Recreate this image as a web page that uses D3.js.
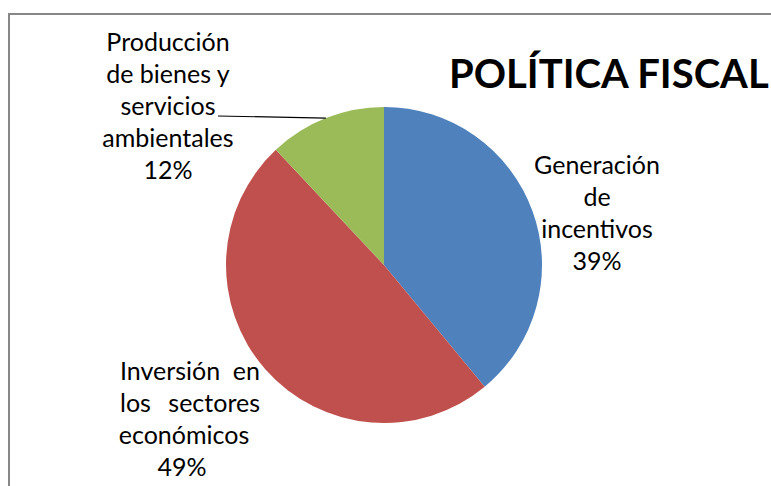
<!DOCTYPE html>
<html>
<head>
<meta charset="utf-8">
<script src="https://cdn.jsdelivr.net/npm/d3@7"></script>
<style>
  body { margin: 0; background: #fff; }
  svg { display: block; }
  text { font-family: Lato, "Open Sans", sans-serif; fill: #000; }
</style>
</head>
<body>
<svg></svg>
<script>
const categories = ['Generación de incentivos', 'Inversión en los sectores económicos', 'Producción de bienes y servicios ambientales'];
const values = [39, 49, 12];
const colors = ['#4F81BD', '#C0504D', '#9BBB59'];
const title = 'POLÍTICA FISCAL';

const width = 771;
const height = 486;

const svg = d3.select('svg')
  .attr('width', width)
  .attr('height', height);

// chart frame (only top + left edges are visible in the crop)
svg.append('path')
  .attr('d', 'M9,486 V14 H771')
  .attr('fill', 'none')
  .attr('stroke', '#878787')
  .attr('stroke-width', 2);

const cx = 384, cy = 265, radius = 158;

const pie = d3.pie().sort(null).value(d => d.value);
const arc = d3.arc().innerRadius(0).outerRadius(radius);

const data = categories.map((c, i) => ({ name: c, value: values[i], color: colors[i] }));

const g = svg.append('g').attr('transform', `translate(${cx},${cy})`);
g.selectAll('path')
  .data(pie(data))
  .enter().append('path')
    .attr('d', arc)
    .attr('fill', d => d.data.color);

svg.append('text')
  .attr('x', 449)
  .attr('y', 88)
  .attr('font-size', 40)
  .attr('font-weight', 'bold')
  .text(title);

// labels, wrapped as in the original
const pct = v => v + '%';
const fs = 25;
const labelBlocks = [
  { lines: ['Generación', 'de', 'incentivos', pct(values[0])], x: 597, y: 174 },
  { lines: ['Producción', 'de bienes y', 'servicios', 'ambientales', pct(values[2])], x: 168, y: 51 }
];
const lineH = 32;
labelBlocks.forEach(b => {
  b.lines.forEach((l, i) => {
    svg.append('text')
      .attr('x', b.x)
      .attr('y', b.y + i * lineH)
      .attr('text-anchor', 'middle')
      .attr('font-size', fs)
      .text(l);
  });
});

// justified lines for the red slice: first word left, last word right
const inv = [['Inversión', 'en'], ['los', 'sectores']];
inv.forEach((w, i) => {
  svg.append('text')
    .attr('x', 120).attr('y', 380 + i * lineH)
    .attr('font-size', fs)
    .text(w[0]);
  svg.append('text')
    .attr('x', 260).attr('y', 380 + i * lineH)
    .attr('text-anchor', 'end')
    .attr('font-size', fs)
    .text(w[1]);
});
svg.append('text')
  .attr('x', 184).attr('y', 380 + 2 * lineH)
  .attr('text-anchor', 'middle').attr('font-size', fs)
  .text('económicos');
svg.append('text')
  .attr('x', 182).attr('y', 380 + 3 * lineH)
  .attr('text-anchor', 'middle').attr('font-size', fs)
  .text(pct(values[1]));

// leader line for the green slice, to the middle of its arc
const green = pie(data)[2];
const ang = (green.startAngle + green.endAngle) / 2;
svg.append('line')
  .attr('x1', 218).attr('y1', 116)
  .attr('x2', cx + radius * Math.sin(ang)).attr('y2', cy - radius * Math.cos(ang))
  .attr('stroke', '#000')
  .attr('stroke-width', 1.2);
</script>
</body>
</html>
